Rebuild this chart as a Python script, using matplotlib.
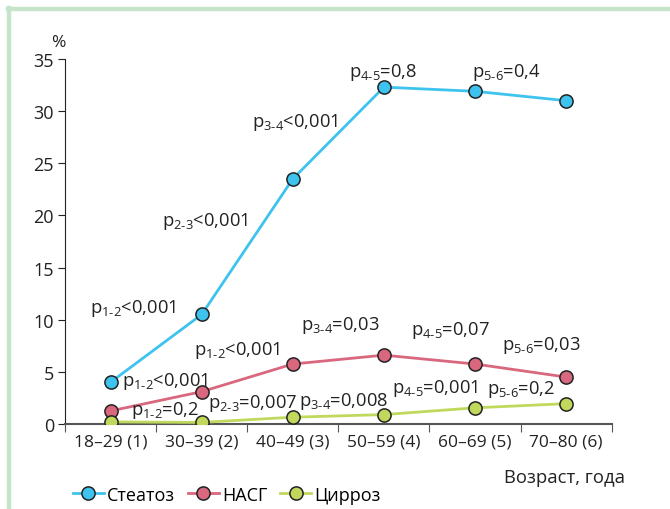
import matplotlib.pyplot as plt
from matplotlib.lines import Line2D

plt.rcParams['font.family'] = ['Open Sans', 'DejaVu Sans']
plt.rcParams['mathtext.fontset'] = 'custom'
plt.rcParams['mathtext.rm'] = 'Open Sans'

# data
age_groups = ["18–29 (1)", "30–39 (2)", "40–49 (3)", "50–59 (4)", "60–69 (5)", "70–80 (6)"]
steatosis = [4.0, 10.5, 23.5, 32.3, 31.9, 31.0]
nash = [1.25, 3.1, 5.75, 6.6, 5.75, 4.5]
cirrhosis = [0.2, 0.15, 0.65, 0.9, 1.55, 1.95]
series_names = ["Стеатоз", "НАСГ", "Цирроз"]

# p-value labels: (x, baseline y, subscript, rest)
steatosis_p = [(-0.23, 10.7, "1-2", "<0,001"), (0.57, 19.1, "2-3", "<0,001"),
               (1.55, 28.6, "3-4", "<0,001"), (2.62, 33.4, "4-5", "=0,8"),
               (3.97, 33.4, "5-6", "=0,4")]
nash_p = [(0.92, 6.7, "1-2", "<0,001"), (2.09, 9.1, "3-4", "=0,03"),
          (3.3, 8.6, "4-5", "=0,07"), (4.3, 7.2, "5-6", "=0,03")]
cirrhosis_p = [(0.13, 3.7, "1-2", "<0,001"), (0.22, 0.95, "1-2", "=0,2"),
               (1.07, 1.6, "2-3", "=0,007"), (2.07, 1.8, "3-4", "=0,008"),
               (3.09, 3.1, "4-5", "=0,001"), (4.13, 3.0, "5-6", "=0,2")]

colors = ["#3ec3ee", "#d9687f", "#c0d95c"]

fig = plt.figure(figsize=(6.7, 5.1), dpi=100)
ax = fig.add_axes([0.097, 0.1667, 0.816, 0.7157])

x = range(len(age_groups))
for vals, c, name in zip([steatosis, nash, cirrhosis], colors, series_names):
    ax.plot(x, vals, color=c, lw=2, marker='o', ms=9.5, mfc=c, mec='#222222',
            mew=1.1, label=name, zorder=3)

for x0, y0, sub, rest in steatosis_p + nash_p + cirrhosis_p:
    ax.text(x0, y0, "p$_{\\mathregular{" + sub.replace("-", "‐") + "}}$" + rest,
            fontsize=13.2, color='#222222', va='baseline', ha='left')

ax.set_xlim(-0.5, 5.5)
ax.set_ylim(0, 35)
ax.set_yticks(range(0, 36, 5))
ax.set_xticks([i - 0.5 for i in range(7)])
ax.set_xticklabels([])
ax.set_xticks(list(x), minor=True)
ax.set_xticklabels(age_groups, minor=True)
ax.tick_params(axis='x', which='minor', length=0, pad=7, labelsize=12.5, colors='#222222')
ax.tick_params(axis='x', which='major', length=6, color='#555555')
ax.tick_params(axis='y', length=5, labelsize=13, colors='#222222', pad=3)
ax.spines['top'].set_visible(False)
ax.spines['right'].set_visible(False)
ax.spines['left'].set_color('#222222')
ax.spines['bottom'].set_color('#555555')
ax.spines['bottom'].set_linewidth(1.5)

fig.text(0.087, 0.915, "%", fontsize=12.5, ha='center', va='center', color='#222222')
fig.text(0.933, 0.062, "Возраст, года", fontsize=13.3, ha='right', va='center', color='#222222')

fig.legend(loc='lower left', bbox_to_anchor=(0.09, -0.014), ncol=3, frameon=False,
           fontsize=13, handlelength=1.7, handletextpad=0.2, columnspacing=0.7,
           borderpad=0.2)

# light green frame
fig.add_artist(Line2D([0.014, 0.014], [0.0, 0.982], color='#c6e4c9', lw=3.2))
fig.add_artist(Line2D([0.012, 1.0], [0.98, 0.98], color='#c6e4c9', lw=3.2))

fig.savefig("out.png", dpi=100)
